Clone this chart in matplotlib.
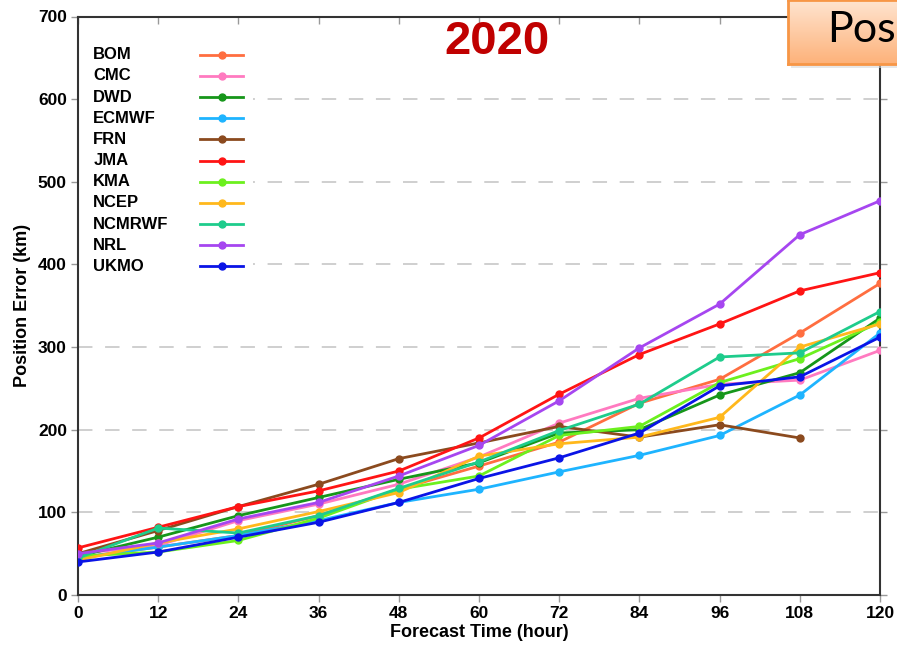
import matplotlib
matplotlib.use("Agg")
import matplotlib.pyplot as plt
from matplotlib.patches import Rectangle
from matplotlib.colors import LinearSegmentedColormap
import numpy as np

plt.rcParams['font.family'] = ['Liberation Sans', 'DejaVu Sans']

hours = [0, 12, 24, 36, 48, 60, 72, 84, 96, 108, 120]

bom    = [45, 58, 72, 96, 128, 156, 185, 232, 261, 317, 377]
cmc    = [50, 60, 90, 110, 134, 167, 208, 238, 255, 260, 296]
dwd    = [47, 70, 96, 118, 140, 160, 196, 200, 242, 269, 335]
ecmwf  = [45, 58, 72, 90, 112, 128, 149, 169, 193, 242, 317]
frn    = [50, 78, 107, 134, 165, 184, 204, 191, 206, 190, None]
jma    = [57, 82, 107, 126, 150, 190, 243, 291, 328, 368, 390]
kma    = [47, 52, 66, 93, 128, 144, 193, 204, 257, 286, 330]
ncep   = [42, 63, 80, 101, 124, 168, 183, 191, 215, 300, 328]
ncmrwf = [45, 81, 75, 96, 129, 161, 199, 231, 288, 293, 343]
nrl    = [50, 63, 92, 112, 144, 181, 235, 299, 352, 436, 477]
ukmo   = [40, 52, 70, 88, 112, 141, 166, 196, 253, 264, 312]

centers = ["BOM", "CMC", "DWD", "ECMWF", "FRN", "JMA", "KMA", "NCEP",
           "NCMRWF", "NRL", "UKMO"]
series = [bom, cmc, dwd, ecmwf, frn, jma, kma, ncep, ncmrwf, nrl, ukmo]
colors = ["#FF6E40", "#FF7AC0", "#16961A", "#1EB4FF", "#8B4A1E", "#FF1414",
          "#6CF01E", "#FFB81C", "#1ECC8C", "#A646F0", "#0A14E6"]

x_ticks = hours
y_ticks = [0, 100, 200, 300, 400, 500, 600, 700]

fig = plt.figure(figsize=(8.97, 6.48), dpi=100)
ax = fig.add_axes([78/897, 53/648, 802/897, 578.5/648])

# dashed horizontal grid
for yv in y_ticks[1:-1]:
    ax.axhline(yv, color="#cccccc", lw=1.3, dashes=(8, 7), zorder=0)

# white block behind the key
ax.add_patch(Rectangle((0.0, 0.545), 0.218, 0.42, transform=ax.transAxes,
                       facecolor="white", edgecolor="none", zorder=1))

for name, vals, c in zip(centers, series, colors):
    arr = np.array([np.nan if v is None else v for v in vals], dtype=float)
    ax.plot(hours, arr, color=c, lw=2.0, marker="o", ms=5, zorder=3)

# key: name on the left, line sample on the right
for i, (name, c) in enumerate(zip(centers, colors)):
    yk = 0.934 - i * 0.0366
    ax.text(0.019, yk, name, transform=ax.transAxes, fontsize=12,
            fontweight="bold", va="center", ha="left", zorder=4)
    ax.plot([0.152, 0.206], [yk, yk], transform=ax.transAxes, color=c,
            lw=2.0, zorder=4)
    ax.plot([0.179], [yk], transform=ax.transAxes, color=c, marker="o",
            ms=5, zorder=4)

ax.set_xlim(0, 120)
ax.set_ylim(0, 700)
ax.set_xticks(x_ticks)
ax.set_yticks(y_ticks)
ax.tick_params(axis="both", labelsize=12.5, length=5, width=1, color="#999999",
               direction="out", pad=3)
ax.tick_params(axis="x", top=True)
ax.tick_params(axis="y", right=True)
for lab in ax.get_xticklabels() + ax.get_yticklabels():
    lab.set_fontweight("bold")
# top ticks point down into the plot
for t in ax.xaxis.get_major_ticks():
    t.tick2line.set_marker(3)
for spine in ax.spines.values():
    spine.set_linewidth(1.5)
    spine.set_color("#333333")

ax.set_xlabel("Forecast Time (hour)", fontsize=13, fontweight="bold", labelpad=2)
ax.set_ylabel("Position Error (km)", fontsize=13, fontweight="bold", labelpad=5)

ax.text(0.522, 0.956, "2020", transform=ax.transAxes, fontsize=34,
        fontweight="bold", color="#C00000", ha="center", va="center", zorder=5)

# orange banner at the top right
shadow = Rectangle((791/897, 1 - 68/648), 0.2, 6/648, transform=fig.transFigure,
                   facecolor="#d8d8d8", edgecolor="none", alpha=0.6, zorder=9)
fig.patches.append(shadow)
grad_ax = fig.add_axes([788/897, 1 - 64/648, 109/897, 64/648], zorder=10)
grad = np.linspace(0, 1, 64).reshape(-1, 1)
cmap = LinearSegmentedColormap.from_list("banner", ["#FFE4CF", "#FDB27A"])
grad_ax.imshow(grad, aspect="auto", cmap=cmap, extent=[0, 1, 0, 1], origin="upper")
grad_ax.set_xlim(0, 1)
grad_ax.set_ylim(0, 1)
grad_ax.set_xticks([])
grad_ax.set_yticks([])
for s in grad_ax.spines.values():
    s.set_color("#F79646")
    s.set_linewidth(2)
grad_ax.spines["right"].set_visible(False)
grad_ax.text(0.36, 0.53, "Pos", fontsize=31, family=["Lato", "DejaVu Sans"],
             color="black", ha="left", va="center")

fig.savefig("out.png", dpi=100, facecolor="white")
